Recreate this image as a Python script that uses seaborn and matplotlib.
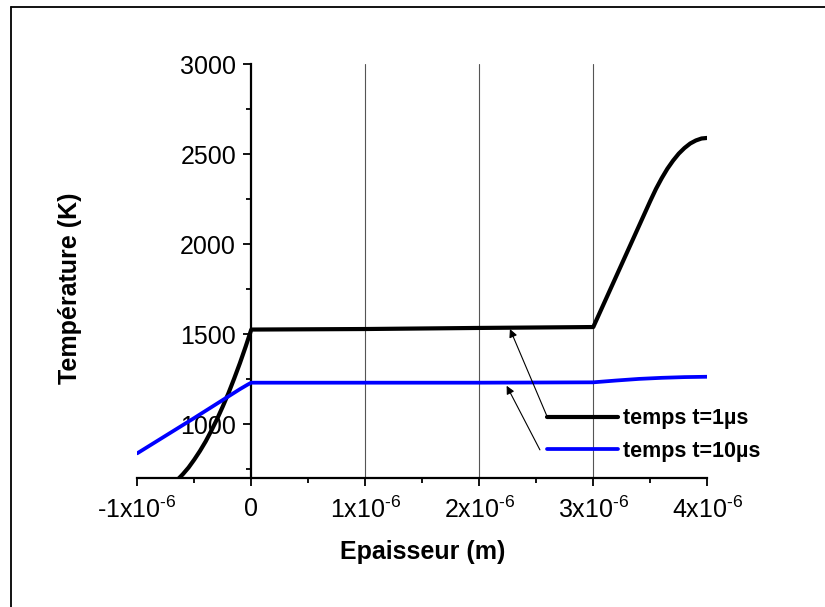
import numpy as np
import pandas as pd
import matplotlib
matplotlib.use("Agg")
import matplotlib.pyplot as plt
from matplotlib.lines import Line2D
from matplotlib.ticker import FixedLocator
import seaborn as sns

# Temperature profiles across the layer thickness (x in micrometres, T in K)
x_t1_um = [-0.70, -0.65, -0.60, -0.55, -0.50, -0.45, -0.40, -0.35, -0.30, -0.25,
           -0.20, -0.15, -0.10, -0.05, 0.0, 1.0, 2.0, 3.0, 3.1, 3.2, 3.3, 3.4,
           3.5, 3.55, 3.6, 3.65, 3.7, 3.75, 3.8, 3.85, 3.9, 3.95, 4.0]
temp_t1 = [664, 691, 724, 761, 805, 853, 906, 966, 1030, 1100,
           1174, 1255, 1340, 1431, 1527, 1530, 1536, 1541, 1681, 1821, 1961, 2101,
           2241, 2308, 2367, 2420, 2465, 2504, 2535, 2560, 2577, 2588, 2591]

x_t10_um = [-1.0, -0.5, -0.1, -0.03, 0.0, 1.0, 2.0, 3.0, 3.2, 3.4, 3.6, 3.8, 4.0]
temp_t10 = [840, 1036, 1196, 1222, 1232, 1232, 1232, 1234, 1244, 1253, 1259, 1263, 1265]

series_labels = ["temps t=1µs", "temps t=10µs"]
series_colors = ["#000000", "#0000ff"]

HY = "\u2010"
x_ticks_um = [-1, 0, 1, 2, 3, 4]
x_tick_labels = [r"$\mathregular{" + HY + r"1x10^{" + HY + r"6}}$", "0",
                 r"$\mathregular{1x10^{" + HY + r"6}}$",
                 r"$\mathregular{2x10^{" + HY + r"6}}$",
                 r"$\mathregular{3x10^{" + HY + r"6}}$",
                 r"$\mathregular{4x10^{" + HY + r"6}}$"]
x_minor_um = [-0.5, 0.5, 1.5, 2.5, 3.5]
grid_um = [1, 2, 3]
y_ticks = [1000, 1500, 2000, 2500, 3000]
y_minor = [750, 1250, 1750, 2250, 2750]

df = pd.concat([
    pd.DataFrame({"x": np.array(x_t1_um) * 1e-6, "T": temp_t1, "serie": series_labels[0]}),
    pd.DataFrame({"x": np.array(x_t10_um) * 1e-6, "T": temp_t10, "serie": series_labels[1]}),
])

sns.set_style("ticks")
plt.rcParams["font.family"] = ["Liberation Sans", "DejaVu Sans"]
plt.rcParams["mathtext.fontset"] = "custom"
plt.rcParams["mathtext.rm"] = "Liberation Sans"
plt.rcParams["mathtext.it"] = "Liberation Sans:italic"
plt.rcParams["mathtext.bf"] = "Liberation Sans:bold"
plt.rcParams["text.color"] = "black"
plt.rcParams["axes.labelcolor"] = "black"

fig = plt.figure(figsize=(8.25, 6.07), dpi=100)
ax = fig.add_axes([0.1664, 0.2117, 0.8573 - 0.1664, 0.8941 - 0.2117])

for lab, col, lw in zip(series_labels, series_colors, [3.0, 2.7]):
    sns.lineplot(data=df[df["serie"] == lab], x="x", y="T", color=col, lw=lw,
                 label=lab, ax=ax, zorder=4, sort=True, estimator=None)

ax.set_xlim(-1e-6, 4e-6)
ax.set_ylim(700, 3000)

for g in grid_um:
    ax.axvline(g * 1e-6, color="#555555", lw=0.8, zorder=1)

ax.spines["top"].set_visible(False)
ax.spines["right"].set_visible(False)
ax.spines["left"].set_position(("data", 0))
for s in ["left", "bottom"]:
    ax.spines[s].set_linewidth(1.6)
    ax.spines[s].set_color("black")

ax.set_xticks(np.array(x_ticks_um) * 1e-6)
ax.set_xticklabels(x_tick_labels)
ax.xaxis.set_minor_locator(FixedLocator(np.array(x_minor_um) * 1e-6))
ax.set_yticks(y_ticks)
ax.set_yticklabels([str(v) for v in y_ticks])
ax.yaxis.set_minor_locator(FixedLocator(y_minor))
ax.tick_params(axis="both", which="major", direction="out", length=6, width=1.3,
               labelsize=18, color="black", labelcolor="black")
ax.tick_params(axis="both", which="minor", direction="out", length=3.5, width=1.3,
               color="black")
ax.tick_params(axis="x", which="major", pad=7)
ax.tick_params(axis="y", which="major", pad=5)

ax.set_xlabel("Epaisseur (m)", fontsize=18, fontweight="bold", color="black")
ax.set_ylabel("Température (K)", fontsize=18, fontweight="bold", color="black")
ax.xaxis.set_label_coords(0.5, -0.177)
ax.xaxis.label.set_va("center")
ax.yaxis.set_label_coords(-0.118, 0.46)
ax.yaxis.label.set_va("center")

handles, labels = ax.get_legend_handles_labels()
leg = ax.legend(handles, labels, loc="center left",
                bbox_to_anchor=(547 / 825, 1 - 435 / 607), bbox_transform=fig.transFigure,
                frameon=False, borderpad=0, borderaxespad=0, handlelength=3.3,
                handletextpad=0.25, labelspacing=0.55, labelcolor="black",
                prop={"weight": "bold", "size": 15.5})

# pointers from the legend entries to their curves
ax.annotate("", xy=(2.269e-6, 1530), xytext=(2.591e-6, 1050),
            arrowprops=dict(arrowstyle="-|>", color="black", lw=0.8, mutation_scale=12,
                            shrinkA=0, shrinkB=0), zorder=5)
ax.annotate("", xy=(2.240e-6, 1215), xytext=(2.532e-6, 859),
            arrowprops=dict(arrowstyle="-|>", color="black", lw=0.8, mutation_scale=12,
                            shrinkA=0, shrinkB=0), zorder=5)

# page frame (left and top edges)
fx, fy = 11 / 825, 1 - 6.7 / 607
fig.add_artist(Line2D([fx, fx], [0, fy], transform=fig.transFigure, color="black", lw=1.3))
fig.add_artist(Line2D([fx, 1], [fy, fy], transform=fig.transFigure, color="black", lw=1.3))

fig.savefig("out.png", dpi=100)
